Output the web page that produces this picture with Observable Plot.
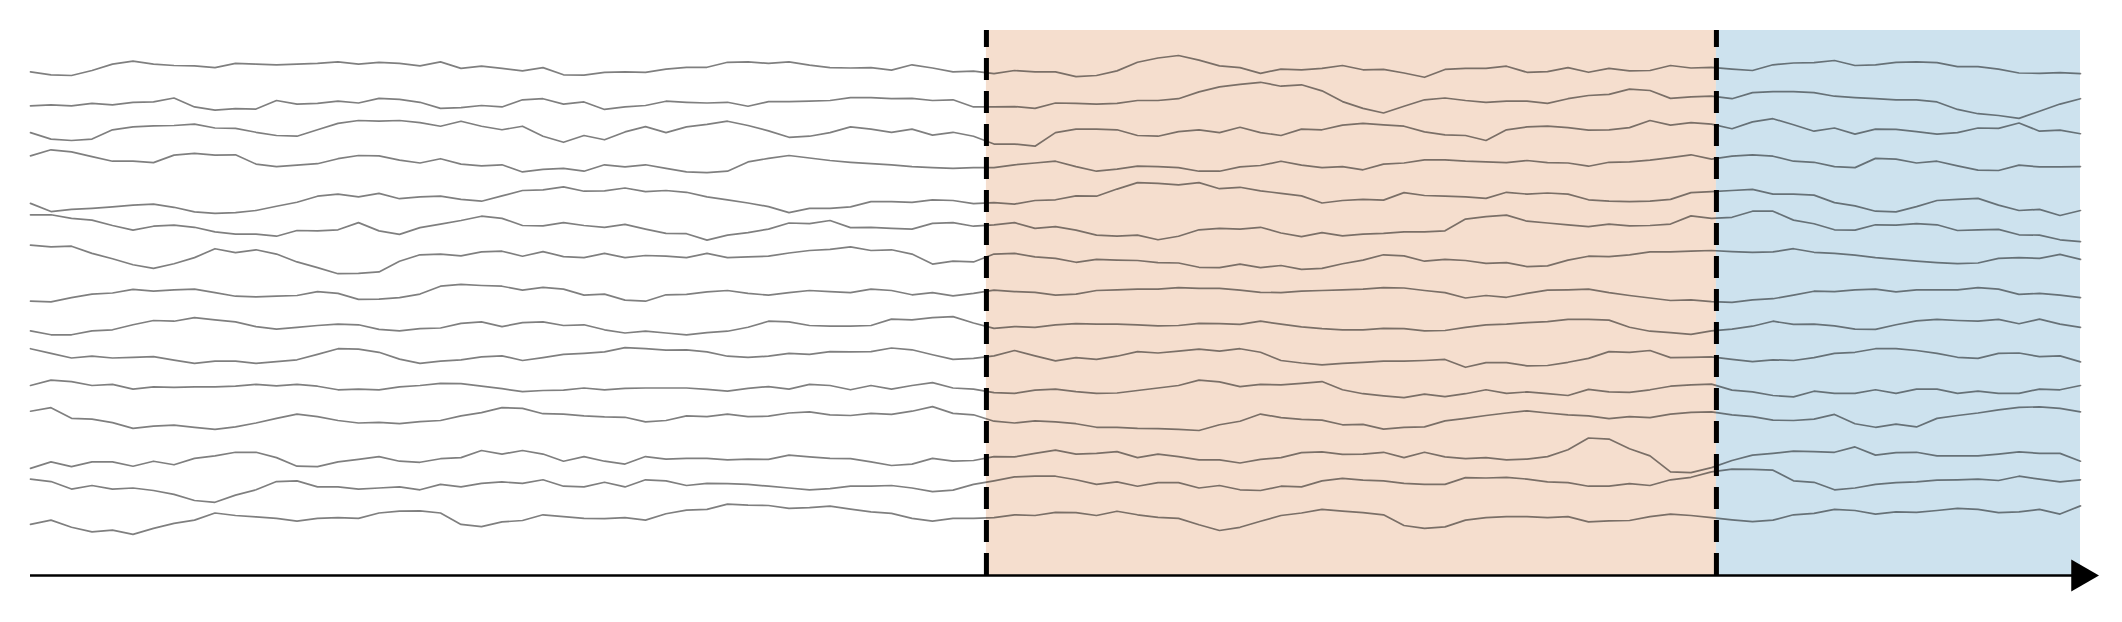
<!DOCTYPE html>
<html>
<head>
<meta charset="utf-8">
<style>
  html, body { margin: 0; padding: 0; background: #ffffff; }
  svg { display: block; }
</style>
<script src="https://cdn.jsdelivr.net/npm/d3@7"></script>
<script src="https://cdn.jsdelivr.net/npm/@observablehq/plot@0.6"></script>
</head>
<body>
<div id="chart"></div>
<script>
// Trace positions (vertical units, growing downward), one array per channel,
// sampled at 101 equally spaced time steps.
const ch01 = [130,138,140,126,108,100,108,112,113,118,106,108,110,108,106,102,108,103,106,
  113,102,120,114,120,127,118,138,139,131,130,131,122,117,117,103,102,106,102,111,
  118,119,118,125,110,119,130,128,135,126,130,130,143,140,127,103,91,84,97,
  113,118,134,122,124,120,112,124,123,133,145,123,120,120,114,131,129,118,131,120,
  127,126,112,119,117,122,126,110,105,104,98,112,110,103,102,104,115,115,122,
  133,134,132,135];
const ch02 = [225,222,225,218,222,215,214,203,228,237,233,234,210,220,218,212,217,204,207,
  215,232,230,224,228,208,205,220,214,235,228,224,212,215,217,215,226,213,213,212,
  210,202,202,205,204,210,208,228,228,227,232,217,218,220,218,210,210,205,186,
  172,165,159,170,166,183,213,232,245,226,208,203,210,215,212,212,218,205,196,193,
  178,182,204,200,198,205,188,185,185,188,198,202,205,208,208,214,235,247,252,
  260,240,220,205];
const ch03 = [300,318,322,318,292,284,281,280,276,287,288,299,308,310,292,274,266,268,266,
  272,282,268,282,292,282,310,327,308,320,298,283,300,284,277,268,280,295,313,310,
  300,284,290,299,290,307,299,310,332,332,338,300,290,290,292,308,310,297,292,
  300,285,300,308,290,292,279,274,278,282,298,306,308,322,292,284,282,286,293,292,
  286,266,279,272,276,289,270,261,278,296,287,304,290,291,297,304,300,287,288,
  273,296,293,303];
const ch04 = [365,348,354,367,380,380,384,363,358,363,362,388,395,391,387,373,364,365,377,
  385,373,388,393,390,410,403,400,408,390,396,390,400,410,412,408,382,372,364,371,
  378,383,387,390,395,398,400,398,398,390,385,380,395,408,402,394,395,398,408,
  408,396,392,380,391,398,395,404,388,385,376,376,380,382,384,378,384,385,394,383,
  382,377,370,362,374,366,362,366,380,383,395,398,372,374,385,380,393,405,406,
  391,396,396,395];
const ch05 = [498,521,515,512,508,503,500,509,522,526,524,518,506,495,478,472,480,470,485,
  480,478,487,492,477,462,460,452,464,463,455,465,462,467,480,488,497,507,524,512,
  512,508,493,493,495,488,490,499,496,500,490,488,477,478,458,440,442,446,440,
  457,453,463,470,477,497,490,487,489,468,476,478,480,484,467,472,469,472,488,492,
  493,492,487,468,465,462,459,472,472,475,496,505,520,522,507,490,487,484,503,
  518,515,532,518];
const ch06 = [530,530,540,545,560,573,562,559,565,578,584,584,590,574,575,572,552,575,585,
  566,556,546,534,540,560,561,552,560,565,557,570,582,583,601,587,580,570,553,555,
  546,566,565,568,570,554,552,562,558,552,568,563,573,587,590,587,600,590,572,
  568,570,565,581,591,580,589,584,582,578,578,575,542,535,531,548,553,558,563,556,
  561,560,556,533,540,537,520,520,545,555,572,573,558,559,555,558,574,572,571,
  586,587,600,605];
const ch07 = [615,620,618,638,653,670,680,667,650,625,636,628,640,662,678,695,694,690,660,
  642,640,645,634,632,646,633,647,650,638,650,644,646,650,638,650,648,646,637,630,
  627,620,630,628,640,668,660,662,640,638,648,652,663,655,657,658,664,665,677,
  678,668,678,672,683,680,667,657,642,645,660,655,658,666,664,675,673,657,646,647,
  642,634,634,632,630,633,635,634,625,635,638,643,650,655,660,664,667,665,652,
  650,652,641,655];
const ch08 = [772,774,762,752,749,739,744,740,738,748,758,760,758,756,745,750,767,766,762,
  752,730,725,728,730,741,733,738,755,752,769,772,754,753,746,742,750,755,748,742,
  745,748,738,742,754,748,757,750,741,745,747,755,752,742,740,738,738,734,736,
  736,741,747,748,744,742,740,738,734,735,742,748,763,756,761,750,741,740,738,748,
  756,763,770,768,773,775,768,765,755,744,745,740,738,746,740,740,740,734,738,
  753,750,755,762];
const ch09 = [855,866,866,855,852,838,826,828,818,824,830,843,850,845,840,836,838,851,855,
  849,847,834,830,843,832,830,840,838,852,861,856,861,866,860,856,845,828,830,840,
  842,842,840,822,824,818,815,833,848,843,845,838,835,836,836,838,841,840,834,
  835,837,828,836,844,849,852,852,848,849,855,854,845,838,836,832,829,823,823,825,
  845,856,860,865,855,850,842,828,837,836,841,850,851,838,827,823,826,828,823,
  835,822,836,845];
const ch10 = [905,918,931,926,931,929,927,937,946,940,940,946,941,936,921,905,906,915,934,
  946,940,936,928,925,938,930,921,918,914,902,905,909,908,914,926,929,926,918,921,
  913,914,913,903,908,922,935,932,925,910,925,939,930,935,926,913,917,912,906,
  912,905,915,938,945,950,946,943,940,940,938,935,957,944,944,953,952,943,932,913,
  915,910,930,929,928,935,941,936,938,930,918,915,905,905,910,918,929,932,918,
  917,927,925,942];
const ch11 = [1008,993,997,1008,1005,1018,1012,1013,1012,1012,1010,1005,1009,1005,1010,1020,1018,1020,1012,
  1008,1002,1003,1010,1017,1025,1022,1021,1015,1020,1016,1015,1015,1015,1019,1024,1016,1011,1018,1005,
  1008,1020,1008,1018,1008,1000,1015,1018,1028,1030,1021,1018,1025,1030,1029,1022,1015,1008,993,
  998,1011,1005,1006,1002,997,1020,1031,1037,1042,1032,1039,1031,1020,1030,1026,1031,1036,1019,1026,
  1027,1020,1010,1006,1004,1021,1026,1036,1040,1024,1030,1030,1020,1030,1018,1018,1030,1024,1030,
  1030,1018,1020,1008];
const ch12 = [1080,1070,1100,1102,1112,1128,1122,1119,1125,1131,1124,1113,1100,1088,1095,1106,1113,1111,1115,
  1109,1106,1093,1084,1070,1072,1087,1088,1093,1096,1097,1110,1106,1093,1095,1088,1095,1094,1085,1082,
  1090,1092,1086,1089,1080,1067,1086,1090,1108,1113,1107,1110,1115,1125,1125,1128,1129,1131,1134,
  1118,1108,1088,1098,1103,1105,1118,1117,1130,1125,1124,1107,1100,1092,1085,1079,1085,1090,1093,1101,
  1095,1098,1088,1083,1082,1090,1095,1105,1106,1102,1089,1115,1125,1116,1124,1100,1092,1085,1076,
  1069,1068,1072,1082];
const ch13 = [1240,1222,1235,1222,1222,1234,1220,1230,1212,1205,1195,1195,1210,1234,1235,1222,1215,1207,1220,
  1223,1213,1210,1190,1200,1190,1200,1220,1207,1220,1228,1207,1214,1212,1212,1216,1214,1215,1203,1208,
  1212,1213,1222,1232,1228,1212,1220,1218,1207,1208,1198,1189,1200,1198,1193,1210,1200,1207,1216,
  1216,1225,1215,1210,1196,1194,1201,1200,1195,1210,1195,1208,1213,1210,1216,1214,1207,1188,1155,1158,
  1185,1205,1250,1252,1238,1218,1203,1198,1192,1193,1195,1180,1203,1196,1195,1205,1205,1205,1200,
  1194,1198,1198,1220];
const ch14 = [1270,1277,1298,1288,1298,1295,1302,1313,1330,1335,1315,1300,1277,1275,1292,1292,1298,1295,1292,
  1300,1285,1292,1282,1278,1282,1272,1290,1292,1279,1292,1272,1275,1288,1282,1283,1285,1290,1295,1300,
  1297,1290,1290,1288,1295,1305,1301,1285,1275,1264,1262,1262,1272,1285,1278,1290,1280,1280,1295,
  1288,1300,1302,1290,1292,1275,1268,1273,1275,1282,1285,1285,1266,1267,1265,1270,1278,1280,1290,1290,
  1283,1288,1272,1265,1250,1242,1243,1245,1275,1279,1300,1295,1285,1280,1278,1273,1272,1270,1274,
  1262,1270,1278,1272];
const ch15 = [1397,1385,1405,1418,1413,1425,1408,1394,1385,1365,1372,1376,1380,1388,1380,1378,1380,1365,1360,
  1359,1365,1397,1403,1390,1386,1370,1375,1380,1381,1378,1385,1367,1357,1355,1340,1343,1344,1352,1350,
  1346,1354,1362,1366,1380,1388,1380,1380,1378,1370,1372,1363,1364,1372,1360,1370,1377,1380,1398,
  1414,1405,1388,1372,1365,1355,1360,1364,1370,1400,1408,1404,1385,1378,1375,1375,1378,1375,1390,1387,
  1386,1375,1368,1372,1378,1384,1389,1385,1370,1366,1355,1358,1368,1362,1363,1358,1352,1355,1364,
  1362,1355,1368,1345];

// Phases of the recording (time in sample steps) and their colours
const phaseStart = [46.63, 82.24];
const phaseEnd   = [82.24, 100];
const phaseColor = ["#f5dece", "#cde2ee"];
const boundaries = [46.63, 82.24];
const timeEnd = 100;
const panelTop = 14;      // top of the recording panel, trace units
const panelBottom = 1540; // bottom of the panel / time axis, trace units

const channels = [ch01, ch02, ch03, ch04, ch05, ch06, ch07, ch08, ch09, ch10, ch11, ch12, ch13, ch14, ch15];
const traces = channels.flatMap((vals, c) => vals.map((v, i) => ({channel: c + 1, t: i, v})));
const phases = phaseStart.map((s, i) => ({start: s, end: phaseEnd[i], color: phaseColor[i]}));

const chart = Plot.plot({
  width: 2122,
  height: 622,
  margin: 0,
  style: {background: "#ffffff"},
  x: {domain: [0, timeEnd], range: [30, 2080], axis: null},
  y: {domain: [0, panelBottom], range: [25, 575], axis: null},
  color: {type: "identity"},
  marks: [
    Plot.rect(phases, {x1: "start", x2: "end", y1: panelTop, y2: panelBottom, fill: "color"}),
    Plot.line(traces, {x: "t", y: "v", z: "channel", stroke: "#000000", strokeOpacity: 0.5, strokeWidth: 1.7, curve: "linear"}),
    Plot.ruleX(boundaries, {y1: panelBottom, y2: panelTop, stroke: "#000000", strokeWidth: 5, strokeDasharray: "22,11"}),
    Plot.ruleY([panelBottom], {x1: 0, x2: timeEnd, stroke: "#000000", strokeWidth: 2.5}),
    Plot.dot([timeEnd], {x: d => d, y: panelBottom, symbol: "triangle", rotate: 90, r: 11.9, fill: "#000000", stroke: "none"})
  ]
});
document.getElementById("chart").appendChild(chart);
</script>
</body>
</html>
